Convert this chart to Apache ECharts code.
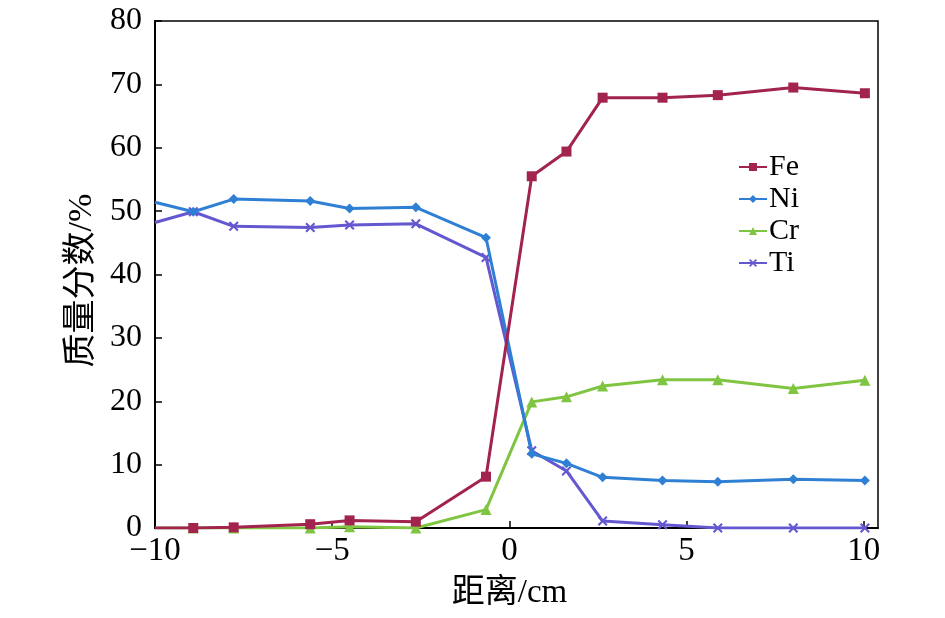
<!DOCTYPE html>
<html>
<head>
<meta charset="utf-8">
<script src="https://cdn.jsdelivr.net/npm/echarts@6/dist/echarts.min.js"></script>
<style>html,body{margin:0;padding:0;background:#fff}#c{width:945px;height:618px}</style>
</head>
<body>
<div id="c"></div>
<script>
const distances = [-10, -8.92, -7.78, -5.62, -4.51, -2.64, -0.66, 0.63, 1.61, 2.63, 4.32, 5.88, 8.01, 10.03];
const fe = [0, 0, 0.1, 0.6, 1.2, 1.0, 8.1, 55.5, 59.4, 67.9, 67.9, 68.3, 69.5, 68.6];
const ni = [51.4, 49.9, 51.9, 51.6, 50.4, 50.6, 45.8, 11.7, 10.2, 8.0, 7.5, 7.3, 7.7, 7.5];
const cr = [0, 0, 0, 0, 0.2, 0, 2.9, 19.9, 20.7, 22.4, 23.4, 23.4, 22.0, 23.3];
const ti = [48.2, 49.9, 47.6, 47.4, 47.8, 48.0, 42.7, 12.2, 9.0, 1.1, 0.5, 0, 0, 0];
const seriesNames = ['Fe', 'Ni', 'Cr', 'Ti'];
const xTicks = [-10, -5, 0, 5, 10];
const yTicks = [0, 10, 20, 30, 40, 50, 60, 70, 80];

const serif = '"Liberation Serif", "Noto Sans CJK SC", serif';
const colors = ['#a3234f', '#2f80d4', '#7fc541', '#6458d0'];
const xCross = 'path://M0,1.5 L1.5,0 L5,3.5 L8.5,0 L10,1.5 L6.5,5 L10,8.5 L8.5,10 L5,6.5 L1.5,10 L0,8.5 L3.5,5 Z';
const symbols = ['rect', 'diamond', 'triangle', xCross];
const sizes = [10, 10, 11, 10];
const values = [fe, ni, cr, ti];

const chart = echarts.init(document.getElementById('c'));
chart.setOption({
  animation: false,
  backgroundColor: '#fff',
  grid: { left: 155, right: 67, top: 21, bottom: 90, show: true, borderColor: '#000', borderWidth: 1.5 },
  legend: {
    orient: 'vertical', left: 733, top: 147,
    itemWidth: 28, itemHeight: 10, itemGap: 2,
    textStyle: { fontFamily: serif, fontSize: 30, color: '#000', lineHeight: 26, padding: [0, 0, 0, -3] },
    data: seriesNames
  },
  xAxis: {
    type: 'value', min: -10, max: 10.4, interval: 5,
    name: '距离/cm', nameLocation: 'middle', nameGap: 49,
    nameTextStyle: { fontFamily: serif, fontSize: 33, color: '#000', padding: [0, 14, 0, 0] },
    axisLine: { onZero: false, lineStyle: { color: '#000', width: 2 } },
    axisTick: { inside: true, length: 7, lineStyle: { color: '#000', width: 1.5 } },
    axisLabel: {
      fontFamily: serif, fontSize: 33, color: '#000', margin: 7, showMaxLabel: false,
      formatter: v => xTicks.includes(v) ? String(v).replace('-', '\u2212') : ''
    },
    splitLine: { show: false }
  },
  yAxis: {
    type: 'value', min: 0, max: 80, interval: 10,
    name: '质量分数/%', nameLocation: 'middle', nameGap: 56,
    nameTextStyle: { fontFamily: serif, fontSize: 34, color: '#000', padding: [0, 12, 0, 0] },
    axisLine: { onZero: false, lineStyle: { color: '#000', width: 2 } },
    axisTick: { inside: true, length: 7, lineStyle: { color: '#000', width: 1.5 } },
    axisLabel: { fontFamily: serif, fontSize: 32, color: '#000', margin: 13,
      formatter: v => yTicks.includes(v) ? String(v) : '' },
    splitLine: { show: false }
  },
  series: seriesNames.map((n, i) => ({
    name: n, type: 'line',
    data: distances.map((x, j) => [x, values[i][j]]),
    symbol: symbols[i],
    symbolSize: (v, p) => p.dataIndex === 0 ? 0 : sizes[i],
    showAllSymbol: true,
    color: colors[i],
    itemStyle: { color: colors[i] },
    lineStyle: { color: colors[i], width: 3 },
    z: 10 - i
  }))
});
</script>
</body>
</html>
